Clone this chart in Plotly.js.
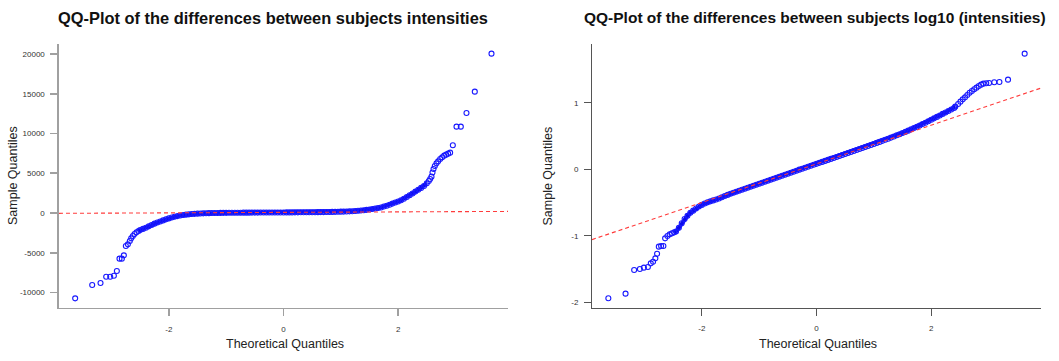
<!DOCTYPE html>
<html>
<head>
<meta charset="utf-8">
<script src="https://cdn.plot.ly/plotly-3.0.1.min.js"></script>
<style>
  html, body { margin: 0; padding: 0; background: #fff; }
  #chart { width: 1059px; height: 361px; }
</style>
</head>
<body>
<div id="chart"></div>
<script>
// Normal QQ-plot of raw intensity differences (left panel)
const leftTheo = [
  -3.633, -3.336, -3.191, -3.092, -3.022, -2.958, -2.906, -2.860, -2.819, -2.784,
  -2.749, -2.714, -2.680, -2.656, -2.627, -2.598, -2.563, -2.528,
  -2.50, -2.45, -2.40, -2.35, -2.30, -2.25, -2.20, -2.15, -2.10, -2.05,
  -2.00, -1.95, -1.90, -1.85, -1.80, -1.75, -1.70, -1.65, -1.60, -1.55,
  -1.50, -1.45, -1.40, -1.35, -1.30, -1.25, -1.20, -1.15, -1.10, -1.05,
  -1.00, -0.95, -0.90, -0.85, -0.80, -0.75, -0.70, -0.65, -0.60, -0.55,
  -0.50, -0.45, -0.40, -0.35, -0.30, -0.25, -0.20, -0.15, -0.10, -0.05,
  0.00, 0.05, 0.10, 0.15, 0.20, 0.25, 0.30, 0.35, 0.40, 0.45,
  0.50, 0.55, 0.60, 0.65, 0.70, 0.75, 0.80, 0.85, 0.90, 0.95,
  1.00, 1.05, 1.10, 1.15, 1.20, 1.25, 1.30, 1.35, 1.40, 1.45,
  1.50, 1.55, 1.60, 1.65, 1.70, 1.75, 1.80, 1.85, 1.90, 1.95,
  2.00, 2.05, 2.10, 2.15, 2.20, 2.25, 2.30, 2.35, 2.40, 2.45,
  2.499, 2.534, 2.557, 2.581, 2.598, 2.616, 2.639, 2.668, 2.697, 2.732,
  2.767, 2.802, 2.836, 2.871, 2.906, 2.953, 3.017, 3.092, 3.191, 3.336, 3.627
];
const leftSample = [
  -10735, -9058, -8806, -8010, -8010, -7884, -7296, -5745, -5745, -5325,
  -4151, -3941, -3522, -3187, -2893, -2642, -2432, -2264,
  -2150, -2000, -1850, -1680, -1500, -1340, -1190, -1060, -930, -800,
  -680, -570, -470, -390, -320, -260, -210, -170, -135, -105,
  -80, -60, -44, -30, -18, -8, 0, 7, 13, 18,
  22, 26, 30, 33, 36, 39, 42, 44, 47, 49,
  51, 53, 55, 57, 59, 61, 63, 65, 67, 69,
  71, 73, 75, 77, 80, 82, 85, 88, 91, 94,
  98, 102, 106, 111, 116, 122, 129, 137, 146, 156,
  167, 179, 192, 206, 220, 245, 275, 310, 350, 395,
  445, 500, 560, 625, 700, 810, 920, 1040, 1180, 1320,
  1450, 1610, 1800, 2010, 2230, 2450, 2690, 2920, 3160, 3400,
  3732, 4026, 4277, 4570, 5100, 5535, 5913, 6248, 6500, 6793,
  7003, 7212, 7338, 7464, 7590, 8513, 10860, 10860, 12580, 15263, 20044
];
const leftCrowded = [17, 119];          // index span where the points pile up into a band
const leftQQLine = [79, 31];            // intercept, slope
const leftYTicks = [-10000, -5000, 0, 5000, 10000, 15000, 20000];

// Normal QQ-plot of log10 intensity differences (right panel)
const rightTheo = [
  -3.63, -3.33, -3.18, -3.08, -3.01, -2.94, -2.89, -2.85, -2.81, -2.78,
  -2.75, -2.71, -2.67, -2.64, -2.60, -2.56, -2.52, -2.48,
  -2.45, -2.40, -2.35, -2.30, -2.25, -2.20, -2.15, -2.10, -2.05, -2.00,
  -1.95, -1.90, -1.85, -1.80, -1.75, -1.70, -1.65, -1.60, -1.55, -1.50,
  -1.45, -1.40, -1.35, -1.30, -1.25, -1.20, -1.15, -1.10, -1.05, -1.00,
  -0.95, -0.90, -0.85, -0.80, -0.75, -0.70, -0.65, -0.60, -0.55, -0.50,
  -0.45, -0.40, -0.35, -0.30, -0.25, -0.20, -0.15, -0.10, -0.05, 0.00,
  0.05, 0.10, 0.15, 0.20, 0.25, 0.30, 0.35, 0.40, 0.45, 0.50,
  0.55, 0.60, 0.65, 0.70, 0.75, 0.80, 0.85, 0.90, 0.95, 1.00,
  1.05, 1.10, 1.15, 1.20, 1.25, 1.30, 1.35, 1.40, 1.45, 1.50,
  1.55, 1.60, 1.65, 1.70, 1.75, 1.80, 1.85, 1.90, 1.95, 2.00,
  2.05, 2.10, 2.15, 2.20, 2.25, 2.30, 2.35, 2.40,
  2.42, 2.47, 2.51, 2.55, 2.59, 2.63, 2.67, 2.71, 2.75, 2.79,
  2.83, 2.87, 2.91, 2.96, 3.01, 3.10, 3.19, 3.34, 3.63
];
const rightSample = [
  -1.940, -1.870, -1.514, -1.499, -1.479, -1.469, -1.414, -1.389, -1.339, -1.269,
  -1.163, -1.153, -1.153, -1.038, -1.003, -0.978, -0.963, -0.948,
  -0.935, -0.880, -0.812, -0.748, -0.700, -0.655, -0.622, -0.590, -0.560, -0.535,
  -0.514, -0.497, -0.482, -0.468, -0.454, -0.438, -0.420, -0.402, -0.385, -0.368,
  -0.352, -0.337, -0.322, -0.307, -0.292, -0.277, -0.262, -0.247, -0.232, -0.218,
  -0.203, -0.188, -0.173, -0.158, -0.143, -0.128, -0.113, -0.098, -0.082, -0.067,
  -0.052, -0.036, -0.021, -0.005, 0.009, 0.024, 0.039, 0.053, 0.068, 0.082,
  0.097, 0.111, 0.126, 0.141, 0.156, 0.171, 0.186, 0.201, 0.216, 0.231,
  0.246, 0.261, 0.276, 0.291, 0.306, 0.321, 0.336, 0.351, 0.366, 0.381,
  0.397, 0.412, 0.428, 0.444, 0.460, 0.477, 0.494, 0.511, 0.528, 0.545,
  0.562, 0.581, 0.601, 0.620, 0.638, 0.659, 0.680, 0.700, 0.722, 0.745,
  0.766, 0.788, 0.810, 0.833, 0.855, 0.877, 0.900, 0.922,
  0.942, 0.982, 1.017, 1.052, 1.082, 1.117, 1.152, 1.177, 1.203, 1.228,
  1.253, 1.273, 1.288, 1.293, 1.298, 1.308, 1.313, 1.348, 1.739
];
const rightCrowded = [17, 117];
const rightQQLine = [0.082, 0.291];     // intercept, slope
const rightYTicks = [-2, -1, 0, 1];

const xTicks = [-2, 0, 2];
const titles = [
  'QQ-Plot of the differences between subjects intensities',
  'QQ-Plot of the differences between subjects log10 (intensities)'
];
const xLabel = 'Theoretical Quantiles';
const yLabel = 'Sample Quantiles';

// page geometry helpers (pixels -> paper fractions)
const W = 1059, H = 361;
const fx = p => p / W;
const fy = p => 1 - p / H;
const FONT = 'Liberation Sans, Arial, Helvetica, sans-serif';
const BLUE = 'rgb(25,25,255)';

const xRange = [-3.915, 3.915];

function pointsTrace(x, y, xa, ya) {
  return {
    x: x, y: y, xaxis: xa, yaxis: ya,
    type: 'scatter', mode: 'markers', hoverinfo: 'skip',
    marker: { symbol: 'circle-open', size: 5, color: BLUE, line: { width: 1.1 } }
  };
}
// where thousands of circles overlap they merge into a solid band
function bandTrace(x, y, span, xa, ya) {
  return {
    x: x.slice(span[0], span[1]), y: y.slice(span[0], span[1]), xaxis: xa, yaxis: ya,
    type: 'scatter', mode: 'lines', hoverinfo: 'skip',
    line: { color: 'rgb(10,10,235)', width: 4, shape: 'linear' }
  };
}
function lineTrace(coef, xa, ya) {
  const xs = xRange.slice();
  return {
    x: xs, y: xs.map(v => coef[0] + coef[1] * v), xaxis: xa, yaxis: ya,
    type: 'scatter', mode: 'lines', hoverinfo: 'skip',
    line: { color: 'rgb(255,60,60)', width: 1.1, dash: '4px,3px' }
  };
}

const data = [
  bandTrace(leftTheo, leftSample, leftCrowded, 'x', 'y'),
  pointsTrace(leftTheo, leftSample, 'x', 'y'),
  lineTrace(leftQQLine, 'x', 'y'),
  bandTrace(rightTheo, rightSample, rightCrowded, 'x2', 'y2'),
  pointsTrace(rightTheo, rightSample, 'x2', 'y2'),
  lineTrace(rightQQLine, 'x2', 'y2')
];

function axisStyle(color, width) {
  return {
    showline: true, linecolor: color, linewidth: width,
    ticks: 'outside', ticklen: 7, tickcolor: color, tickwidth: width,
    showgrid: false, zeroline: false, fixedrange: true,
    tickfont: { family: FONT, size: 8, color: '#333' }
  };
}

const yDomain = [fy(307.7), fy(44)];

const layout = {
  width: W, height: H,
  margin: { l: 0, r: 0, t: 0, b: 0 },
  paper_bgcolor: '#fff', plot_bgcolor: '#fff',
  showlegend: false,
  xaxis: Object.assign(axisStyle('#a0a0a0', 1.6), {
    domain: [fx(59), fx(508)], range: xRange, anchor: 'y',
    tickvals: xTicks, ticktext: xTicks.map(String), ticklabelstandoff: 6
  }),
  yaxis: Object.assign(axisStyle('#a0a0a0', 1.6), {
    domain: yDomain, range: [-11912, 21258], anchor: 'x',
    tickvals: leftYTicks, ticktext: leftYTicks.map(String), ticklabelstandoff: 4
  }),
  xaxis2: Object.assign(axisStyle('#555', 1), {
    domain: [fx(592), fx(1041)], range: xRange, anchor: 'y2',
    tickvals: xTicks, ticktext: xTicks.map(String), ticklabelstandoff: 6
  }),
  yaxis2: Object.assign(axisStyle('#555', 1), {
    domain: yDomain, range: [-2.081, 1.884], anchor: 'x2',
    tickvals: rightYTicks, ticktext: rightYTicks.map(String), ticklabelstandoff: 4
  }),
  annotations: [
    { text: '<b>' + titles[0] + '</b>', x: fx(272.5), y: fy(18), xref: 'paper', yref: 'paper',
      xanchor: 'center', yanchor: 'middle', showarrow: false,
      font: { family: FONT, size: 16.4, color: '#111' } },
    { text: '<b>' + titles[1] + '</b>', x: fx(814.5), y: fy(18), xref: 'paper', yref: 'paper',
      xanchor: 'center', yanchor: 'middle', showarrow: false,
      font: { family: FONT, size: 15.5, color: '#111' } },
    { text: xLabel, x: fx(284.7), y: fy(343.5), xref: 'paper', yref: 'paper',
      xanchor: 'center', yanchor: 'middle', showarrow: false,
      font: { family: FONT, size: 12.5, color: '#222' } },
    { text: xLabel, x: fx(817.5), y: fy(343.5), xref: 'paper', yref: 'paper',
      xanchor: 'center', yanchor: 'middle', showarrow: false,
      font: { family: FONT, size: 12.5, color: '#222' } },
    { text: yLabel, x: fx(13), y: fy(176), xref: 'paper', yref: 'paper', textangle: -90,
      xanchor: 'center', yanchor: 'middle', showarrow: false,
      font: { family: FONT, size: 12.5, color: '#222' } },
    { text: yLabel, x: fx(547.5), y: fy(176), xref: 'paper', yref: 'paper', textangle: -90,
      xanchor: 'center', yanchor: 'middle', showarrow: false,
      font: { family: FONT, size: 12.5, color: '#222' } }
  ]
};

Plotly.newPlot('chart', data, layout, { staticPlot: true, displayModeBar: false });
</script>
</body>
</html>
